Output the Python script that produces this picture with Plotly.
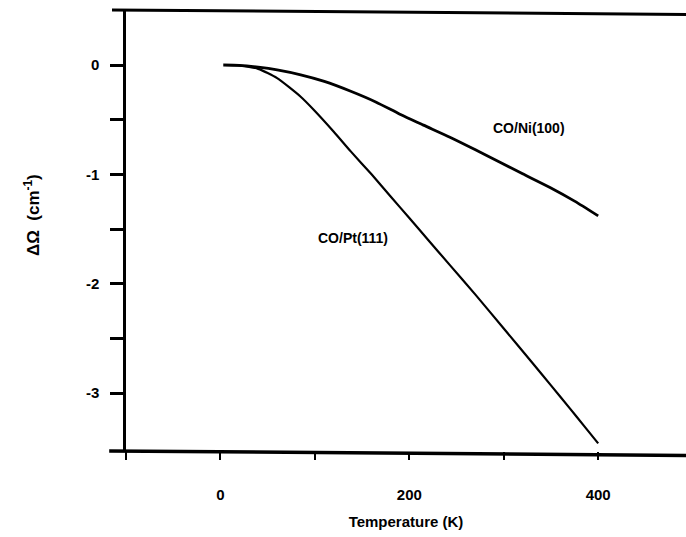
import plotly.graph_objects as go

# Data
pt_T = [5, 20, 40, 60, 85, 100, 120, 138, 160, 180, 200, 220, 243, 270, 300, 330, 350, 370, 385, 400]
pt_shift = [0.0, -0.005, -0.035, -0.12, -0.29, -0.42, -0.61, -0.79, -1.00, -1.20, -1.40, -1.60,
            -1.83, -2.10, -2.41, -2.72, -2.93, -3.14, -3.30, -3.46]
ni_T = [3, 20, 40, 60, 85, 110, 138, 165, 190, 215, 243, 270, 296, 320, 349, 375, 400]
ni_shift = [0.0, -0.003, -0.02, -0.045, -0.09, -0.15, -0.24, -0.34, -0.45, -0.55, -0.66,
            -0.775, -0.89, -0.995, -1.12, -1.245, -1.38]

x_tickvals = [-100, 0, 100, 200, 300, 400]
x_ticktext = ["", "0", "", "200", "", "400"]
y_tickvals = [0, -0.5, -1, -1.5, -2, -2.5, -3]
y_ticktext = ["0", "", "-1", "", "-2", "", "-3"]

labels = [("CO/Ni(100)", 327, -0.58), ("CO/Pt(111)", 140, -1.58)]

font = "Liberation Sans"

fig = go.Figure()
fig.add_trace(go.Scatter(x=ni_T, y=ni_shift, mode="lines",
                         line=dict(color="black", width=2.8, shape="spline", smoothing=0.6),
                         showlegend=False))
fig.add_trace(go.Scatter(x=pt_T, y=pt_shift, mode="lines",
                         line=dict(color="black", width=2.2, shape="spline", smoothing=0.6),
                         showlegend=False))

for txt, xv, yv in labels:
    fig.add_annotation(x=xv, y=yv, text="<b>" + txt + "</b>", showarrow=False, xref="x", yref="y",
                       font=dict(family=font, size=14, color="black"))

fig.add_annotation(x=-0.168, y=0.535, xref="paper", yref="paper", xanchor="center", yanchor="middle",
                   text="<b>ΔΩ  (cm<sup>-1</sup>)</b>",
                   textangle=-90, showarrow=False, font=dict(family=font, size=17, color="black"))

# top and bottom frame lines extending slightly left of the y axis
fig.add_shape(type="line", xref="paper", yref="paper", x0=-0.025, x1=1, y0=1, y1=0.99,
              line=dict(color="black", width=3))
fig.add_shape(type="line", xref="paper", yref="paper", x0=-0.03, x1=1, y0=0.0, y1=-0.01,
              line=dict(color="black", width=3.5))

fig.update_layout(
    width=686, height=537,
    margin=dict(l=126, r=0, t=10, b=86),
    paper_bgcolor="white", plot_bgcolor="white",
    font=dict(family=font, color="black"),
    xaxis=dict(range=[-100, 493], tickvals=x_tickvals, ticktext=x_ticktext,
               ticks="outside", ticklen=8, tickwidth=2, tickcolor="black",
               showgrid=False, zeroline=False, showline=False,
               ticklabelstandoff=22,
               tickfont=dict(family=font, size=15, color="black", weight="bold"),
               title=dict(text="<b>Temperature (K)</b>", font=dict(family=font, size=15, color="black"),
                          standoff=14)),
    yaxis=dict(range=[-3.53, 0.503], tickvals=y_tickvals, ticktext=y_ticktext,
               ticks="outside", ticklen=13, tickwidth=2.5, tickcolor="black",
               showgrid=False, zeroline=False, showline=True, linecolor="black", linewidth=2.5,
               ticklabelstandoff=8,
               tickfont=dict(family=font, size=15, color="black", weight="bold")),
)

fig.write_html("out.html")
